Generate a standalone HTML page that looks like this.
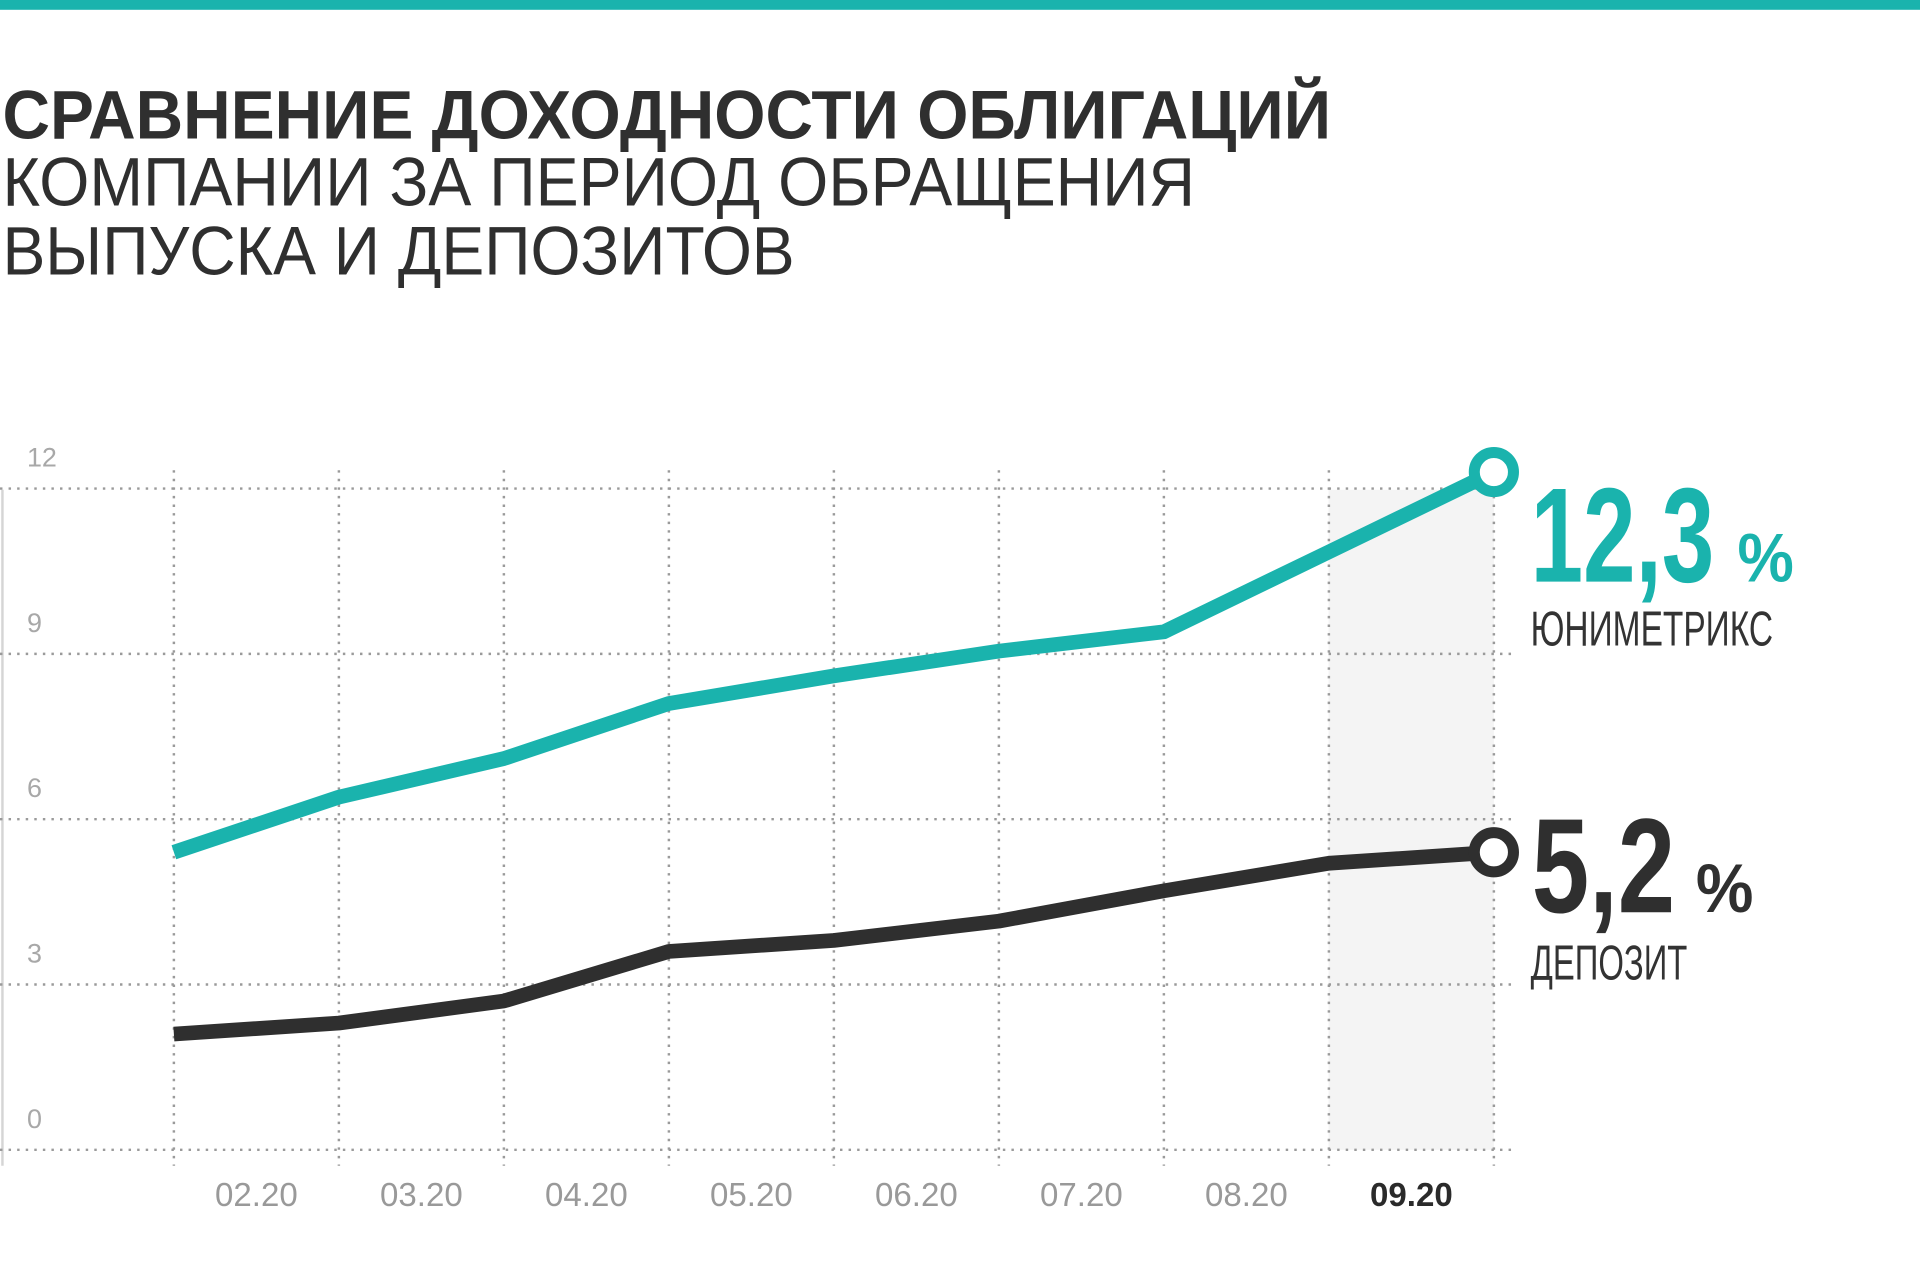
<!DOCTYPE html>
<html><head><meta charset="utf-8">
<style>
html,body{margin:0;padding:0;background:#fff;}
svg{display:block;}
text{font-family:"Liberation Sans",sans-serif;}
</style></head>
<body>
<svg id="chart" width="1920" height="1280" viewBox="0 0 1568 1045.33" xmlns="http://www.w3.org/2000/svg">
  <rect x="0" y="0" width="1568" height="8" fill="#1ab3ad"/>
  <g fill="#2f2f2f" font-size="56">
    <text x="2" y="113" font-weight="bold" textLength="1085" lengthAdjust="spacingAndGlyphs">СРАВНЕНИЕ ДОХОДНОСТИ ОБЛИГАЦИЙ</text>
    <text x="2" y="168" textLength="974" lengthAdjust="spacingAndGlyphs">КОМПАНИИ ЗА ПЕРИОД ОБРАЩЕНИЯ</text>
    <text x="2" y="224" textLength="647" lengthAdjust="spacingAndGlyphs">ВЫПУСКА И ДЕПОЗИТОВ</text>
  </g>
  <rect x="1085" y="400" width="135" height="539" fill="#f4f4f4"/>
  <line x1="2" y1="400" x2="2" y2="952" stroke="#d5d5d5" stroke-width="2"/>
  <g id="grid"></g>
  <g id="series"></g>
  <g fill="#1ab3ad">
    <text x="1250" y="475" font-size="110" font-weight="bold" textLength="150" lengthAdjust="spacingAndGlyphs">12,3</text>
    <text x="1419" y="475" font-size="56" font-weight="bold" textLength="46" lengthAdjust="spacingAndGlyphs">%</text>
    <text x="1250" y="527" font-size="40" fill="#333" textLength="198" lengthAdjust="spacingAndGlyphs">ЮНИМЕТРИКС</text>
  </g>
  <g fill="#2f2f2f">
    <text x="1251" y="745" font-size="110" font-weight="bold" textLength="117" lengthAdjust="spacingAndGlyphs">5,2</text>
    <text x="1385" y="745" font-size="56" font-weight="bold" textLength="47" lengthAdjust="spacingAndGlyphs">%</text>
    <text x="1250" y="800" font-size="40" fill="#333" textLength="128" lengthAdjust="spacingAndGlyphs">ДЕПОЗИТ</text>
  </g>
</svg>
<script>
const categories = ["01.20","02.20","03.20","04.20","05.20","06.20","07.20","08.20","09.20"];
const xTickLabels = ["02.20","03.20","04.20","05.20","06.20","07.20","08.20","09.20"];
const yTicks = [0,3,6,9,12];
const unimetrixValues = [5.4,6.4,7.1,8.1,8.6,9.05,9.4,10.85,12.3];
const depositValues = [2.1,2.3,2.7,3.6,3.8,4.15,4.7,5.2,5.4];

const NS = "http://www.w3.org/2000/svg";
const x0 = 142, xStep = 134.75, yBase = 939, yUnit = 45;
function xScale(i){ return x0 + i*xStep; }
function yScale(v){ return yBase - v*yUnit; }
function mk(tag, attrs, parent){ const e=document.createElementNS(NS,tag); for(const k in attrs) e.setAttribute(k,attrs[k]); parent.appendChild(e); return e; }

const grid = document.getElementById('grid');
const series = document.getElementById('series');
const lastX = xScale(categories.length-1);

yTicks.forEach(function(t){
  const y = yScale(t);
  const ln = mk('line',{x1:0,y1:y,x2:lastX+15,y2:y,stroke:'#9a9a9a','stroke-width':2,'stroke-dasharray':'2 5'},grid);
  
  
  const tx = mk('text',{x:22,y:y-18,'font-size':22,fill:'#a8a8a8'},grid);
  tx.textContent = String(t);
  
  
});
categories.forEach(function(c,i){
  const x = xScale(i);
  const ln = mk('line',{x1:x,y1:384,x2:x,y2:952,stroke:'#9a9a9a','stroke-width':2,'stroke-dasharray':'2 5'},grid);
  
  
});
xTickLabels.forEach(function(l,i){
  const last = i === xTickLabels.length-1;
  const tx = mk('text',{x:(xScale(i)+xScale(i+1))/2,y:985,'font-size':27,'text-anchor':'middle',fill:last?'#2a2a2a':'#999','font-weight':last?'bold':'normal'},grid);
  tx.textContent = l;
  
  
});

function drawSeries(vals, color, name){
  const pts = vals.map(function(v,i){ return xScale(i)+','+yScale(v); }).join(' ');
  const pl = mk('polyline',{points:pts,fill:'none',stroke:color,'stroke-width':12,'stroke-linejoin':'round','stroke-linecap':'butt'},series);
  
  
  const li = vals.length-1;
  const c = mk('circle',{cx:xScale(li),cy:yScale(vals[li]),r:16,fill:'#fff',stroke:color,'stroke-width':9},series);
  
  
}
drawSeries(unimetrixValues,'#1ab3ad','unimetrix');
drawSeries(depositValues,'#2f2f2f','deposit');
</script>
</body></html>
